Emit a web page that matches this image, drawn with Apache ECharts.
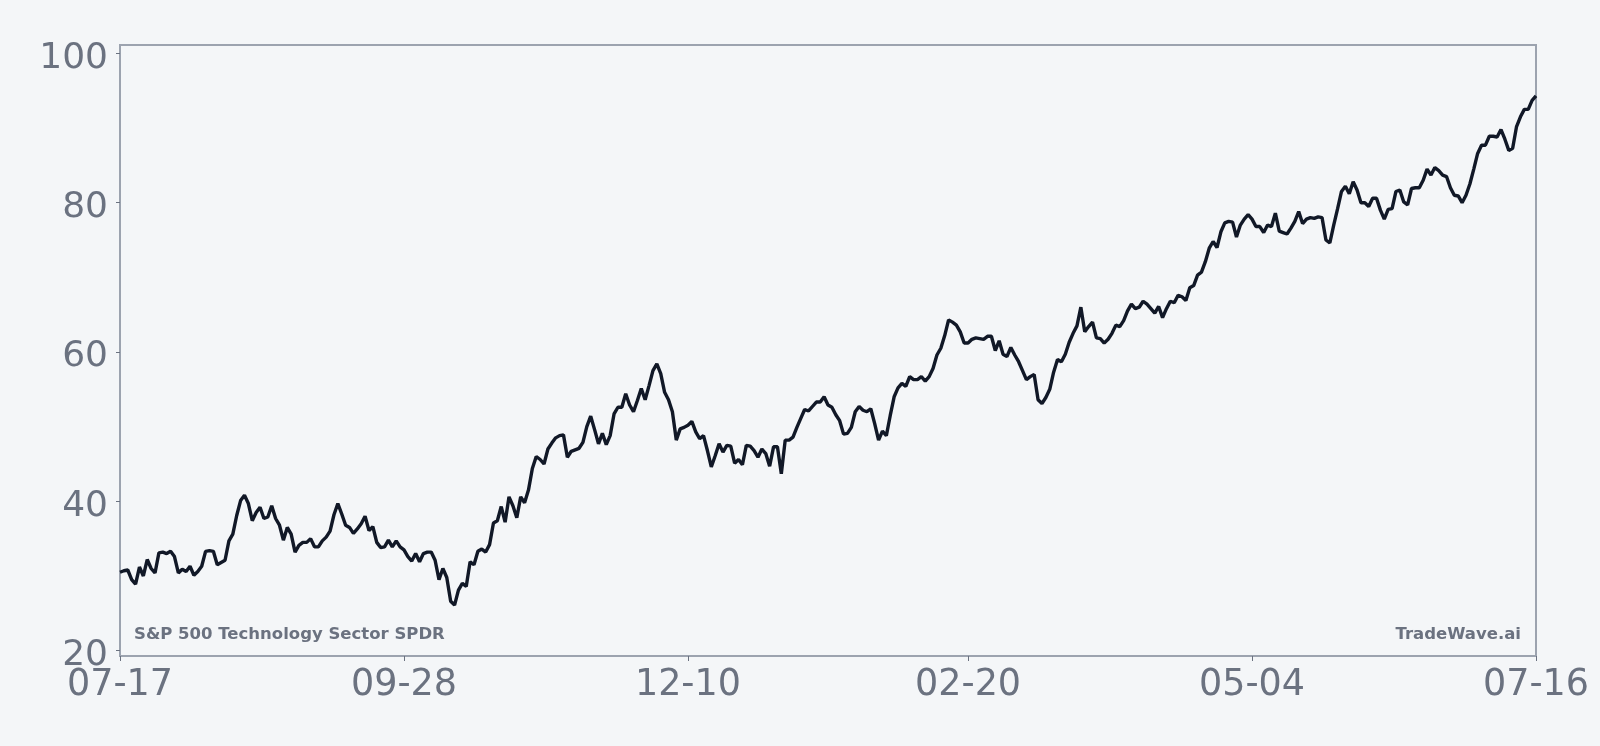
<!DOCTYPE html>
<html>
<head>
<meta charset="utf-8">
<script src="https://cdn.jsdelivr.net/npm/echarts@6/dist/echarts.min.js"></script>
<style>
  html, body { margin: 0; padding: 0; background: #f4f6f8; }
  #chart { width: 1600px; height: 746px; }
</style>
</head>
<body>
<div id="chart"></div>
<script>
// 数据：一年的日收盘价
const startDate = '2024-07-17'
const tickLabels = ['07-17', '09-28', '12-10', '02-20', '05-04', '07-16']
const yTicks = [20, 40, 60, 80, 100]
const seriesName = 'S&P 500 Technology Sector SPDR'
const brand = 'TradeWave.ai'
const prices = [
  30.5, 30.7, 30.8, 29.5, 28.9, 31.2, 30.0, 32.2, 31.0, 30.4,
  33.1, 33.2, 33.0, 33.3, 32.6, 30.4, 30.9, 30.6, 31.3, 30.1,
  30.6, 31.3, 33.3, 33.4, 33.3, 31.5, 31.8, 32.1, 34.7, 35.6,
  38.1, 40.1, 40.8, 39.7, 37.4, 38.5, 39.2, 37.7, 37.9, 39.4,
  37.7, 36.8, 34.8, 36.5, 35.6, 33.2, 34.1, 34.5, 34.5, 35.0,
  33.9, 33.9, 34.7, 35.2, 36.0, 38.2, 39.7, 38.3, 36.8, 36.5,
  35.7, 36.3, 37.0, 38.0, 36.1, 36.6, 34.5, 33.8, 33.9, 34.8,
  33.9, 34.7, 33.9, 33.5, 32.6, 32.0, 33.0, 31.9, 33.0, 33.2,
  33.2, 32.1, 29.5, 31.0, 29.8, 26.6, 26.1, 28.1, 29.0, 28.6,
  31.9, 31.5, 33.3, 33.6, 33.2, 34.2, 37.1, 37.4, 39.3, 37.2,
  40.6, 39.4, 37.8, 40.6, 39.8, 41.5, 44.4, 46.0, 45.6, 45.0,
  47.0, 47.8, 48.5, 48.8, 48.9, 45.9, 46.7, 46.9, 47.1, 47.9,
  50.0, 51.4, 49.6, 47.7, 49.1, 47.6, 48.8, 51.7, 52.6, 52.6,
  54.4, 52.9, 52.0, 53.5, 55.1, 53.6, 55.5, 57.5, 58.4, 57.1,
  54.6, 53.6, 52.0, 48.2, 49.7, 49.9, 50.2, 50.7, 49.3, 48.4,
  48.8, 46.8, 44.6, 46.1, 47.7, 46.6, 47.5, 47.4, 45.1, 45.6,
  44.9, 47.5, 47.4, 46.8, 45.9, 47.0, 46.4, 44.7, 47.3, 47.3,
  43.7, 48.2, 48.2, 48.6, 49.9, 51.1, 52.3, 52.1, 52.7, 53.3,
  53.3, 54.0, 52.9, 52.6, 51.6, 50.8, 49.0, 49.1, 49.9, 52.0,
  52.7, 52.2, 52.0, 52.4, 50.4, 48.2, 49.4, 48.8, 51.5, 54.0,
  55.2, 55.8, 55.4, 56.7, 56.3, 56.3, 56.7, 56.1, 56.7, 57.8,
  59.6, 60.5, 62.2, 64.3, 64.0, 63.6, 62.7, 61.2, 61.2, 61.7,
  61.9, 61.8, 61.7, 62.1, 62.1, 60.2, 61.5, 59.7, 59.4, 60.6,
  59.6, 58.7, 57.5, 56.3, 56.7, 57.0, 53.6, 53.1, 53.9, 55.0,
  57.3, 59.0, 58.7, 59.7, 61.3, 62.5, 63.5, 66.0, 62.7, 63.4,
  64.0, 61.9, 61.8, 61.2, 61.7, 62.5, 63.6, 63.4, 64.2, 65.5,
  66.4, 65.8, 66.0, 66.8, 66.4, 65.8, 65.2, 66.1, 64.6, 65.8,
  66.8, 66.6, 67.6, 67.4, 66.9, 68.6, 68.9, 70.3, 70.7, 72.1,
  73.9, 74.8, 74.0, 76.1, 77.3, 77.5, 77.4, 75.4, 77.0, 77.8,
  78.4, 77.8, 76.8, 76.8, 76.0, 77.0, 76.8, 78.6, 76.2, 76.0,
  75.8, 76.6, 77.5, 78.8, 77.2, 77.8, 78.0, 77.9, 78.1, 78.0,
  75.0, 74.6, 77.0, 79.2, 81.5, 82.2, 81.2, 82.8, 81.7, 80.0,
  80.0, 79.5, 80.6, 80.6, 79.0, 77.8, 79.1, 79.2, 81.5, 81.7,
  80.1, 79.7, 81.9, 82.0, 82.0, 83.0, 84.5, 83.7, 84.7, 84.3,
  83.7, 83.5, 82.0, 81.0, 80.9, 80.0, 81.0, 82.5, 84.5, 86.6,
  87.7, 87.7, 88.9, 88.9, 88.8, 89.8, 88.5, 87.0, 87.3, 90.2,
  91.5, 92.5, 92.5, 93.7, 94.3
]

// 日期类目 MM-DD
const dates = prices.map((_, i) => {
  const d = new Date(startDate + 'T00:00:00Z')
  d.setUTCDate(d.getUTCDate() + i)
  return String(d.getUTCMonth() + 1).padStart(2, '0') + '-' + String(d.getUTCDate()).padStart(2, '0')
})
const showTick = (idx) => tickLabels.includes(dates[idx])

// 上下各留 10% 空白
const lo = Math.min(...prices)
const hi = Math.max(...prices)
const pad = (hi - lo) * 0.1

const textGray = '#6b7280'
const frameGray = '#9ca3af'
const font = '"DejaVu Sans", sans-serif'

const chart = echarts.init(document.getElementById('chart'))
chart.setOption({
  backgroundColor: '#f4f6f8',
  animation: false,
  grid: {
    left: 120, right: 64, top: 45, bottom: 90,
    show: true, borderColor: frameGray, borderWidth: 2
  },
  xAxis: {
    type: 'category',
    data: dates,
    boundaryGap: false,
    axisLine: { lineStyle: { color: frameGray, width: 2 } },
    axisTick: { interval: showTick, length: 5, lineStyle: { color: textGray, width: 1 } },
    axisLabel: {
      interval: showTick,
      margin: 11,
      fontSize: 36.5,
      fontFamily: font,
      color: textGray
    },
    splitLine: { show: false }
  },
  yAxis: {
    type: 'value',
    min: lo - pad,
    max: hi + pad,
    axisLine: { show: true, lineStyle: { color: frameGray, width: 2 } },
    axisTick: { show: true, customValues: yTicks, length: 4, lineStyle: { color: textGray, width: 1 } },
    axisLabel: {
      customValues: yTicks,
      margin: 12,
      verticalAlign: 'top',
      lineHeight: 10,
      fontSize: 36,
      fontFamily: font,
      color: textGray
    },
    splitLine: { show: false }
  },
  graphic: [
    {
      type: 'text', left: 134, top: 626,
      style: { text: seriesName, font: 'bold 16.5px "DejaVu Sans"', fill: textGray }
    },
    {
      type: 'text', right: 79, top: 626,
      style: { text: brand, font: 'bold 16.5px "DejaVu Sans"', fill: textGray }
    }
  ],
  series: [{
    name: seriesName,
    type: 'line',
    data: prices,
    showSymbol: false,
    lineStyle: { color: '#111827', width: 3.4 },
    z: 3
  }]
})
</script>
</body>
</html>
